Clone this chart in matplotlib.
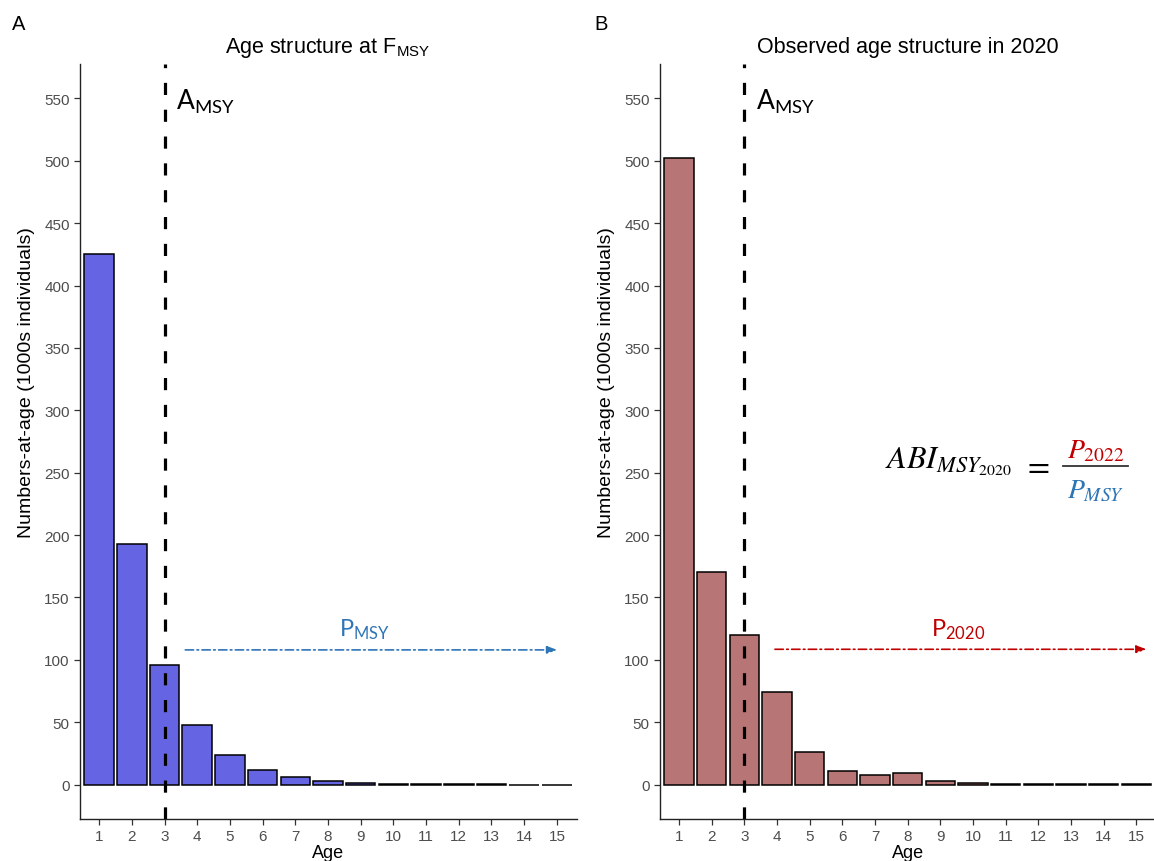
import matplotlib
matplotlib.use("Agg")
import matplotlib.pyplot as plt

# data
ages = list(range(1, 16))
n_fmsy = [425, 193, 96, 48, 24, 12, 6, 3, 1.5, 0.8, 0.4, 0.3, 0.2, 0.1, 0.1]
n_2020 = [502, 170.5, 120, 74, 26.5, 11, 7.7, 9.5, 3, 1.5, 0.8, 0.7, 0.5, 0.3, 0.2]
yticks = list(range(0, 551, 50))
a_msy = 3
p_msy_level = 108
p_2020_level = 108.5

plt.rcParams['font.family'] = ['Liberation Sans', 'DejaVu Sans']
plt.rcParams['mathtext.fontset'] = 'stix'

fig = plt.figure(figsize=(11.54, 8.62), dpi=100)
W, H = 1154, 862


def make_axes(left_px, right_px):
    return fig.add_axes([left_px / W, 1 - 820 / H, (right_px - left_px) / W, (820 - 65) / H])


def style(ax):
    ax.set_xlim(0.4, 15.6)
    ax.set_ylim(-27.5, 577.5)
    ax.set_xticks(ages)
    ax.set_yticks(yticks)
    for s in ['top', 'right']:
        ax.spines[s].set_visible(False)
    for s in ['left', 'bottom']:
        ax.spines[s].set_color('#222222')
        ax.spines[s].set_linewidth(1.0)
    ax.tick_params(length=4, width=0.9, color='#333333', labelcolor='#4d4d4d',
                   labelsize=11, pad=3)
    ax.set_xlabel('Age', fontsize=13, labelpad=1)
    ax.set_ylabel('Numbers-at-age (1000s individuals)', fontsize=14)
    ax.yaxis.set_label_coords(-0.09, 0.58)
    ax.axvline(a_msy, color='black', lw=2.3, dashes=(3.8, 4.6))
    ax.text(3.35, 542, r'$\mathregular{A_{MSY}}$', fontsize=19, family='Lato',
            va='baseline', ha='left')


# panel A
axA = make_axes(79.5, 576.5)
axA.bar(ages, n_fmsy, width=0.9, color='#6565e3', edgecolor='black', linewidth=1.1, zorder=2)
style(axA)
axA.set_title(r'Age structure at $\mathregular{F_{MSY}}$', fontsize=15.5, pad=9)
axA.annotate('', xy=(15.1, p_msy_level), xytext=(3.55, p_msy_level),
             arrowprops=dict(arrowstyle='-|>,head_length=0.6,head_width=0.22',
                             color='#2e75b6', lw=1.2, linestyle=(0, (5, 2, 1, 2))))
axA.text(9.12, 120, r'$\mathregular{P_{MSY}}$', color='#2e75b6', fontsize=17,
         family='Lato', ha='center', va='baseline')

# panel B
axB = make_axes(659.5, 1156)
axB.bar(ages, n_2020, width=0.9, color='#b87575', edgecolor='black', linewidth=1.1, zorder=2)
style(axB)
axB.set_title('Observed age structure in 2020', fontsize=15.5, pad=9)
axB.annotate('', xy=(15.4, p_2020_level), xytext=(3.85, p_2020_level),
             arrowprops=dict(arrowstyle='-|>,head_length=0.6,head_width=0.22',
                             color='#c00000', lw=1.2, linestyle=(0, (5, 2, 1, 2))))
axB.text(9.55, 120, r'$\mathregular{P_{2020}}$', color='#c00000', fontsize=17,
         family='Lato', ha='center', va='baseline')

# ABI equation
axB.text(7.31, 254, r'$ABI_{MSY_{2020}}$', fontsize=23, ha='left', va='baseline')
axB.text(11.94, 255, r'$=$', fontsize=23, ha='center', va='center')
axB.plot([12.76, 14.73], [255, 255], color='#333333', lw=1.3, clip_on=False)
axB.text(13.75, 262, r'$P_{2022}$', fontsize=20, color='#c00000', ha='center', va='baseline')
axB.text(13.75, 230, r'$P_{MSY}$', fontsize=20, color='#2e75b6', ha='center', va='baseline')

# panel letters
fig.text(12 / W, 1 - 30 / H, 'A', fontsize=14.5, va='baseline')
fig.text(594 / W, 1 - 30 / H, 'B', fontsize=14.5, va='baseline')

fig.savefig('out.png', dpi=100)
